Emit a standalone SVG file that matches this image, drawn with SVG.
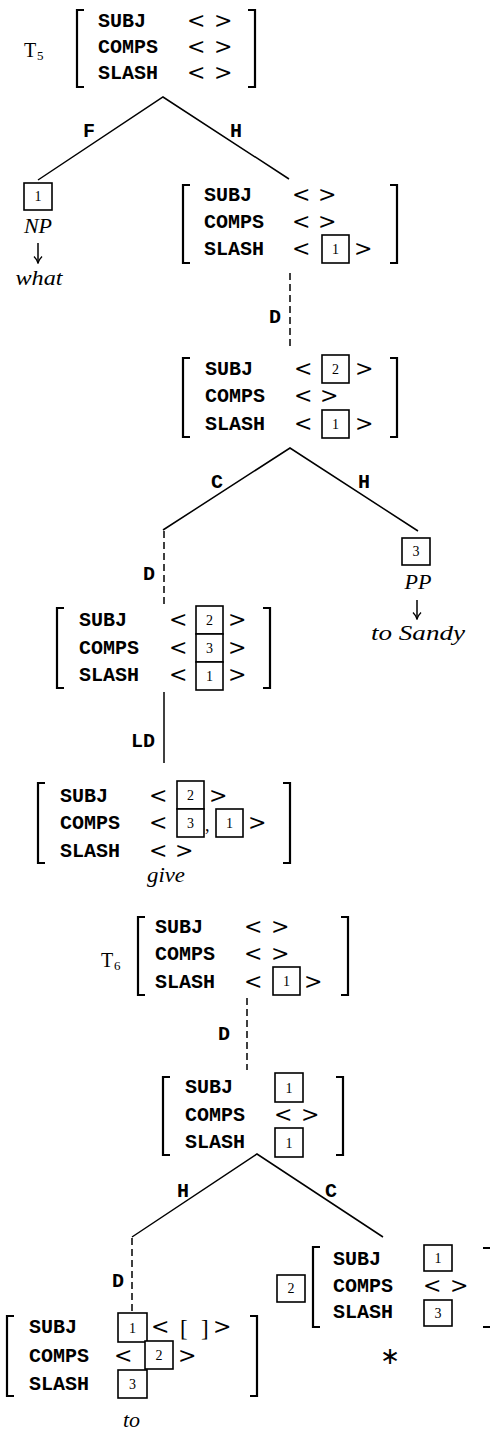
<svg xmlns="http://www.w3.org/2000/svg" width="490" height="1433" viewBox="0 0 490 1433">
<defs>
<style>
.f{font-family:"Liberation Mono","DejaVu Sans Mono",monospace;font-weight:bold;font-size:20px;fill:#000}
.m{font-family:"DejaVu Serif","Liberation Serif",serif;font-size:22px;fill:#000}
.n{font-family:"Liberation Serif","DejaVu Serif",serif;font-size:14px;fill:#000;text-anchor:middle}
.i{font-family:"Liberation Serif","DejaVu Serif",serif;font-style:italic;font-size:22px;fill:#000}
.t{font-family:"Liberation Serif","DejaVu Serif",serif;font-size:20px;fill:#000}
.s{font-family:"Liberation Serif","DejaVu Serif",serif;font-size:13px;fill:#000}
.br{fill:none;stroke:#000;stroke-width:2.2}
.bx{fill:#fff;stroke:#000;stroke-width:1.6}
.ln{fill:none;stroke:#000;stroke-width:1.5}
.dl{fill:none;stroke:#000;stroke-width:1.5;stroke-dasharray:7 4}
.mid{text-anchor:middle}
</style>
<marker id="ah" viewBox="0 0 10 10" refX="9.5" refY="5" markerWidth="10" markerHeight="10" markerUnits="userSpaceOnUse" orient="auto">
<path d="M3 1 Q6 4 9.5 5 Q6 6 3 9" fill="none" stroke="#000" stroke-width="1.3"/>
</marker>
</defs>

<g id="connectors">
<path class="ln" d="M38 180 L163 97 L289 179"/>
<text class="f" x="83" y="137">F</text>
<text class="f" x="230" y="137">H</text>
<line class="dl" x1="290" y1="273" x2="290" y2="347"/>
<text class="f" x="269" y="323">D</text>
<path class="ln" d="M163 530 L290 448 L418 531"/>
<text class="f" x="211" y="488">C</text>
<text class="f" x="358" y="488">H</text>
<line class="dl" x1="164" y1="531" x2="164" y2="607"/>
<text class="f" x="143" y="580">D</text>
<line class="ln" x1="164" y1="692" x2="164" y2="763"/>
<text class="f" x="131" y="747">LD</text>
<line class="dl" x1="247" y1="998" x2="247" y2="1070"/>
<text class="f" x="218" y="1040">D</text>
<path class="ln" d="M132 1237 L257 1154 L383 1237"/>
<text class="f" x="177" y="1197">H</text>
<text class="f" x="325" y="1197">C</text>
<line class="dl" x1="132" y1="1238" x2="132" y2="1313"/>
<text class="f" x="112" y="1287">D</text>
<line class="ln" x1="38" y1="243" x2="38" y2="263" marker-end="url(#ah)"/>
<line class="ln" x1="417" y1="600" x2="417" y2="619" marker-end="url(#ah)"/>
</g>

<g id="n-t5">
<text class="t" x="24" y="57">T</text><text class="s" x="37" y="60">5</text>
<path class="br" d="M84 10 H77 V87 H84"/>
<path class="br" d="M248 10 H255 V87 H248"/>
<text class="f" x="98" y="27">SUBJ</text>
<text class="f" x="98" y="53">COMPS</text>
<text class="f" x="98" y="79">SLASH</text>
<text class="m" x="187" y="28">&lt;</text><text class="m" x="214" y="28">&gt;</text>
<text class="m" x="187" y="54">&lt;</text><text class="m" x="214" y="54">&gt;</text>
<text class="m" x="187" y="80">&lt;</text><text class="m" x="214" y="80">&gt;</text>
</g>

<g id="n-what">
<rect class="bx" x="24" y="183" width="28" height="27"/>
<text class="n" x="38" y="201">1</text>
<text class="i mid" x="38" y="233">NP</text>
<text class="i mid" x="39" y="285" textLength="47" lengthAdjust="spacingAndGlyphs">what</text>
</g>

<g id="n-c">
<path class="br" d="M190 185 H183 V263 H190"/>
<path class="br" d="M390 185 H397 V263 H390"/>
<text class="f" x="204" y="201">SUBJ</text>
<text class="f" x="204" y="228">COMPS</text>
<text class="f" x="204" y="255">SLASH</text>
<text class="m" x="292" y="202">&lt;</text><text class="m" x="318" y="202">&gt;</text>
<text class="m" x="292" y="229">&lt;</text><text class="m" x="318" y="229">&gt;</text>
<text class="m" x="292" y="256">&lt;</text>
<rect class="bx" x="322" y="235" width="27" height="28"/><text class="n" x="335.5" y="254">1</text>
<text class="m" x="354" y="256">&gt;</text>
</g>

<g id="n-d">
<path class="br" d="M190 358 H183 V437 H190"/>
<path class="br" d="M390 358 H397 V437 H390"/>
<text class="f" x="205" y="375">SUBJ</text>
<text class="f" x="205" y="402">COMPS</text>
<text class="f" x="205" y="430">SLASH</text>
<text class="m" x="294" y="376">&lt;</text>
<rect class="bx" x="322" y="355" width="27" height="28"/><text class="n" x="335.5" y="374">2</text>
<text class="m" x="355" y="376">&gt;</text>
<text class="m" x="294" y="403">&lt;</text><text class="m" x="320" y="403">&gt;</text>
<text class="m" x="294" y="431">&lt;</text>
<rect class="bx" x="322" y="410" width="27" height="28"/><text class="n" x="335.5" y="429">1</text>
<text class="m" x="355" y="431">&gt;</text>
</g>

<g id="n-pp">
<rect class="bx" x="402" y="538" width="28" height="27"/>
<text class="n" x="416" y="556">3</text>
<text class="i mid" x="418" y="589">PP</text>
<text class="i mid" x="418" y="640" textLength="94" lengthAdjust="spacingAndGlyphs">to Sandy</text>
</g>

<g id="n-f">
<path class="br" d="M64 608 H57 V688 H64"/>
<path class="br" d="M263 608 H270 V688 H263"/>
<text class="f" x="79" y="626">SUBJ</text>
<text class="f" x="79" y="654">COMPS</text>
<text class="f" x="79" y="681">SLASH</text>
<text class="m" x="169" y="627">&lt;</text>
<text class="m" x="169" y="655">&lt;</text>
<text class="m" x="169" y="682">&lt;</text>
<rect class="bx" x="196" y="606" width="27" height="28"/><text class="n" x="209.5" y="625">2</text>
<rect class="bx" x="196" y="634" width="27" height="28"/><text class="n" x="209.5" y="653">3</text>
<rect class="bx" x="196" y="662" width="27" height="28"/><text class="n" x="209.5" y="681">1</text>
<text class="m" x="228" y="627">&gt;</text>
<text class="m" x="228" y="655">&gt;</text>
<text class="m" x="228" y="682">&gt;</text>
</g>

<g id="n-give">
<path class="br" d="M45 783 H38 V863 H45"/>
<path class="br" d="M283 783 H290 V863 H283"/>
<text class="f" x="60" y="802">SUBJ</text>
<text class="f" x="60" y="829">COMPS</text>
<text class="f" x="60" y="857">SLASH</text>
<text class="m" x="149" y="803">&lt;</text>
<rect class="bx" x="177" y="781" width="27" height="28"/><text class="n" x="190.5" y="800">2</text>
<text class="m" x="209" y="803">&gt;</text>
<text class="m" x="149" y="830">&lt;</text>
<rect class="bx" x="177" y="809" width="27" height="28"/><text class="n" x="190.5" y="828">3</text>
<text x="205" y="831" style="font-family:'Liberation Serif',serif;font-size:18px;fill:#000">,</text>
<rect class="bx" x="216" y="809" width="27" height="28"/><text class="n" x="229.5" y="828">1</text>
<text class="m" x="248" y="830">&gt;</text>
<text class="m" x="149" y="858">&lt;</text><text class="m" x="175" y="858">&gt;</text>
<text class="i mid" x="166" y="882" textLength="38" lengthAdjust="spacingAndGlyphs">give</text>
</g>

<g id="n-t6">
<text class="t" x="101" y="967">T</text><text class="s" x="114" y="970">6</text>
<path class="br" d="M145 917 H138 V995 H145"/>
<path class="br" d="M341 917 H348 V995 H341"/>
<text class="f" x="155" y="933">SUBJ</text>
<text class="f" x="155" y="960">COMPS</text>
<text class="f" x="155" y="988">SLASH</text>
<text class="m" x="244" y="934">&lt;</text><text class="m" x="271" y="934">&gt;</text>
<text class="m" x="244" y="961">&lt;</text><text class="m" x="271" y="961">&gt;</text>
<text class="m" x="244" y="989">&lt;</text>
<rect class="bx" x="273" y="967" width="27" height="28"/><text class="n" x="286.5" y="986">1</text>
<text class="m" x="304" y="989">&gt;</text>
</g>

<g id="n-i">
<path class="br" d="M170 1077 H163 V1155 H170"/>
<path class="br" d="M336 1077 H343 V1155 H336"/>
<text class="f" x="185" y="1093">SUBJ</text>
<text class="f" x="185" y="1121">COMPS</text>
<text class="f" x="185" y="1148">SLASH</text>
<rect class="bx" x="275" y="1073" width="28" height="29"/><text class="n" x="289" y="1093">1</text>
<text class="m" x="274" y="1122">&lt;</text><text class="m" x="301" y="1122">&gt;</text>
<rect class="bx" x="275" y="1128" width="28" height="29"/><text class="n" x="289" y="1148">1</text>
</g>

<g id="n-to">
<path class="br" d="M14 1316 H7 V1396 H14"/>
<path class="br" d="M250 1316 H257 V1396 H250"/>
<text class="f" x="29" y="1333">SUBJ</text>
<text class="f" x="29" y="1362">COMPS</text>
<text class="f" x="29" y="1390">SLASH</text>
<rect class="bx" x="118" y="1313" width="29" height="29"/><text class="n" x="132.5" y="1333">1</text>
<text class="m" x="151" y="1334">&lt;</text>
<text x="180" y="1336" style="font-family:'Liberation Serif',serif;font-size:23px;fill:#000">[</text>
<text x="201" y="1336" style="font-family:'Liberation Serif',serif;font-size:23px;fill:#000">]</text>
<text class="m" x="213" y="1334">&gt;</text>
<text class="m" x="114" y="1363">&lt;</text>
<rect class="bx" x="145" y="1341" width="28" height="28"/><text class="n" x="159" y="1360">2</text>
<text class="m" x="178" y="1363">&gt;</text>
<rect class="bx" x="118" y="1370" width="29" height="28"/><text class="n" x="132.5" y="1389">3</text>
<text class="i" x="123" y="1427">to</text>
</g>

<g id="n-k">
<rect class="bx" x="277" y="1275" width="28" height="27"/><text class="n" x="291" y="1293">2</text>
<path class="br" d="M320 1247 H313 V1327 H320"/>
<path class="br" d="M483 1248 H492 V1327 H483"/>
<text class="f" x="333" y="1265">SUBJ</text>
<text class="f" x="333" y="1292">COMPS</text>
<text class="f" x="333" y="1318">SLASH</text>
<rect class="bx" x="424" y="1245" width="28" height="26"/><text class="n" x="438" y="1263">1</text>
<text class="m" x="423" y="1293">&lt;</text><text class="m" x="450" y="1293">&gt;</text>
<rect class="bx" x="424" y="1300" width="28" height="26"/><text class="n" x="438" y="1318">3</text>
<text x="390" y="1364" style="font-family:'DejaVu Sans',sans-serif;font-size:24px;text-anchor:middle;fill:#000">∗</text>
</g>
</svg>
